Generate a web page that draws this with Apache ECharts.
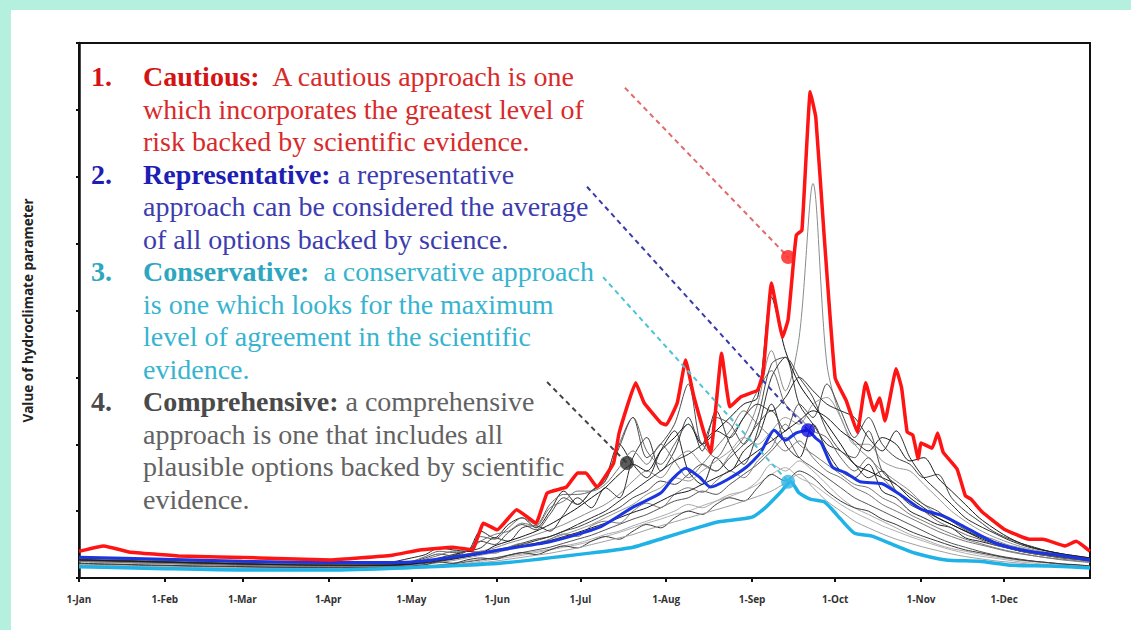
<!DOCTYPE html>
<html><head><meta charset="utf-8">
<script src="https://cdn.jsdelivr.net/npm/echarts@6/dist/echarts.min.js"></script>
<style>html,body{margin:0;padding:0;background:#b5f0df}#c{width:1131px;height:630px}</style>
</head><body><div id="c"></div>
<script>
// ---- axis ticks ----
const monthDays = [0,31,59,90,120,151,181,212,243,273,304,334];
const monthLabels = ['1-Jan','1-Feb','1-Mar','1-Apr','1-May','1-Jun','1-Jul','1-Aug','1-Sep','1-Oct','1-Nov','1-Dec'];

// ---- cautious (max) ----
const redDays = [0,9,18,36,65,91,113,123,135,142,146,151,158,165,169,176,180,183,187,193,195,201,204,210,212,216,219,222,228,232,235,239,245,247,250,254,256,258,259,261,264,266,269,273,277,281,284,287,289,291,295,297,299,301,303,304,308,310,312,317,320,322,326,334,343,348,356,360,365];
const redValues = [0.40,0.48,0.39,0.33,0.30,0.27,0.34,0.42,0.46,0.42,0.82,0.72,1.02,0.82,1.27,1.36,1.57,1.57,1.36,1.72,2.17,2.92,2.62,2.32,2.29,2.62,3.26,2.71,1.87,3.36,2.56,2.71,2.81,3.07,4.41,3.60,3.86,4.75,5.13,5.20,7.27,6.89,5.13,2.99,2.65,2.18,2.92,2.50,2.69,2.35,3.13,2.84,2.18,2.14,1.78,2.02,1.94,2.17,1.88,1.63,1.23,1.18,0.99,0.73,0.58,0.58,0.48,0.55,0.40];

// ---- representative (mean) ----
const blueDays = [0,31,59,90,120,143,152,170,188,200,210,214,219,224,228,234,241,246,251,255,259,263,266,268,272,277,282,290,297,304,312,319,331,343,356,365];
const blueValues = [0.31,0.28,0.25,0.23,0.24,0.36,0.42,0.54,0.76,1.06,1.27,1.47,1.64,1.51,1.36,1.47,1.66,1.87,2.21,2.06,2.17,2.21,2.09,2.02,1.66,1.57,1.44,1.41,1.23,1.03,0.93,0.78,0.52,0.40,0.33,0.27];

// ---- conservative (min) ----
const cyanDays = [0,31,59,90,116,152,188,200,212,224,231,243,248,253,257,260,264,269,272,275,280,286,295,302,313,325,337,350,365];
const cyanValues = [0.17,0.14,0.12,0.12,0.15,0.22,0.39,0.46,0.61,0.76,0.84,0.91,1.06,1.27,1.44,1.27,1.18,1.14,1.02,0.88,0.67,0.63,0.48,0.37,0.27,0.25,0.19,0.18,0.15];

// ---- comprehensive (individual options) ----
const greyDays = [0,30,60,90,110,
  120,125,130,135,140,145,150,155,160,165,
  170,175,180,185,190,195,200,205,210,215,
  220,225,230,235,240,245,250,255,260,265,
  270,275,280,285,290,295,300,305,310,315,
  320,325,330,335,340,345,350,355,360,365];
const grey1 = [0.28,0.25,0.22,0.20,0.22,
  0.30,0.35,0.45,0.42,0.40,0.70,0.60,0.80,0.90,0.75,
  1.00,1.30,1.10,1.30,1.50,2.00,1.70,1.50,1.90,2.20,
  1.60,1.40,1.80,1.60,1.90,2.10,2.60,2.00,1.80,2.30,
  1.90,1.60,1.50,1.70,1.30,1.20,1.00,0.90,0.80,0.75,
  0.60,0.55,0.50,0.45,0.40,0.38,0.35,0.33,0.30,0.28];
const grey2 = [0.30,0.26,0.23,0.21,0.20,
  0.22,0.25,0.28,0.32,0.36,0.40,0.45,0.52,0.58,0.65,
  0.72,0.80,0.90,1.00,1.10,1.25,1.45,1.60,1.50,1.75,
  1.90,1.70,1.60,1.85,2.10,2.60,3.40,2.80,3.60,5.90,
  3.20,2.40,2.00,1.80,1.60,1.45,1.30,1.10,0.95,0.85,
  0.75,0.65,0.58,0.50,0.45,0.40,0.37,0.34,0.31,0.28];
const grey3 = [0.26,0.23,0.20,0.18,0.17,
  0.20,0.24,0.30,0.35,0.40,0.45,0.60,0.55,0.75,0.78,
  0.70,0.95,1.20,1.05,1.35,1.20,1.80,2.10,1.60,1.90,
  2.40,1.90,2.50,2.00,1.70,2.20,3.00,3.30,2.60,2.30,
  2.00,1.90,1.70,1.50,1.60,1.30,1.10,1.00,0.90,0.80,
  0.70,0.62,0.55,0.48,0.42,0.38,0.34,0.31,0.28,0.25];
const grey4 = [0.22,0.19,0.17,0.15,0.15,
  0.16,0.18,0.20,0.22,0.25,0.28,0.30,0.33,0.36,0.40,
  0.43,0.48,0.52,0.58,0.65,0.70,0.78,0.85,0.92,1.00,
  1.10,1.05,1.15,1.25,1.30,1.45,1.70,1.60,1.75,1.60,
  1.40,1.20,1.05,0.95,0.85,0.75,0.65,0.58,0.50,0.44,
  0.40,0.36,0.32,0.29,0.26,0.24,0.22,0.20,0.19,0.17];
const grey5 = [0.30,0.27,0.24,0.22,0.21,
  0.22,0.24,0.26,0.30,0.33,0.38,0.42,0.46,0.52,0.58,
  0.62,0.70,0.76,0.85,0.95,1.05,1.20,1.30,1.45,1.40,
  1.55,1.70,1.60,1.80,2.00,2.30,2.50,2.20,2.60,2.40,
  2.90,2.50,2.10,2.40,2.00,1.80,1.70,1.50,1.55,1.20,
  1.00,0.85,0.70,0.60,0.52,0.46,0.40,0.36,0.32,0.30];
const grey6 = [0.25,0.22,0.19,0.18,0.18,
  0.22,0.28,0.34,0.40,0.40,0.55,0.65,0.70,0.82,0.78,
  1.05,1.15,1.30,1.30,1.40,1.65,1.90,1.70,2.00,1.75,
  1.50,1.70,1.95,2.20,2.50,2.30,2.10,1.90,2.05,1.80,
  1.60,1.50,1.35,1.25,1.10,1.00,0.90,0.80,0.70,0.62,
  0.55,0.50,0.45,0.40,0.36,0.33,0.30,0.28,0.26,0.24];
const grey7 = [0.27,0.24,0.21,0.19,0.19,
  0.21,0.24,0.28,0.33,0.40,0.38,0.48,0.55,0.62,0.70,
  0.80,0.92,1.05,1.20,1.35,1.55,1.70,1.60,1.90,2.10,
  2.30,2.00,2.20,2.40,2.60,2.70,4.20,3.40,2.90,2.60,
  2.30,2.00,1.70,1.60,1.50,1.40,1.20,1.05,0.90,0.80,
  0.70,0.60,0.52,0.46,0.40,0.36,0.33,0.30,0.28,0.26];
const grey8 = [0.24,0.21,0.19,0.17,0.17,
  0.18,0.20,0.23,0.26,0.30,0.34,0.38,0.42,0.48,0.52,
  0.58,0.65,0.72,0.80,0.90,1.00,1.10,1.25,1.35,1.50,
  1.45,1.60,1.75,1.90,2.10,2.00,2.20,2.40,2.30,2.60,
  2.70,2.40,2.00,2.00,1.75,1.65,1.60,1.40,1.20,1.00,
  0.85,0.72,0.62,0.54,0.47,0.42,0.38,0.34,0.31,0.28];
const grey9 = [0.21,0.18,0.16,0.15,0.14,
  0.15,0.17,0.19,0.21,0.24,0.27,0.30,0.34,0.38,0.42,
  0.46,0.52,0.58,0.64,0.72,0.80,0.88,0.95,1.05,1.15,
  1.20,1.30,1.25,1.40,1.55,1.70,1.90,2.10,1.80,1.65,
  1.50,1.35,1.20,1.10,1.00,0.90,0.80,0.70,0.60,0.52,
  0.46,0.40,0.35,0.31,0.28,0.25,0.23,0.21,0.19,0.18];
const grey10 = [0.29,0.26,0.23,0.20,0.21,
  0.25,0.32,0.40,0.38,0.40,0.62,0.58,0.75,0.90,0.80,
  1.10,1.25,1.25,1.30,1.45,2.00,2.40,1.90,1.70,2.00,
  2.30,2.00,1.80,2.10,2.40,2.80,3.10,2.60,2.40,2.20,
  2.10,1.80,1.60,1.80,1.50,1.30,1.15,1.00,0.85,0.75,
  0.65,0.58,0.50,0.45,0.40,0.36,0.33,0.30,0.28,0.26];
const grey11 = [0.26,0.23,0.20,0.19,0.18,
  0.20,0.22,0.25,0.28,0.32,0.36,0.40,0.45,0.50,0.56,
  0.62,0.70,0.80,0.90,1.00,1.15,1.30,1.45,1.60,1.75,
  1.85,2.00,2.20,2.10,2.40,2.60,2.50,2.70,3.00,2.80,
  2.60,2.50,2.40,2.10,1.90,2.20,1.80,1.50,1.30,1.10,
  0.90,0.78,0.68,0.58,0.50,0.44,0.40,0.36,0.33,0.30];
const grey12 = [0.20,0.17,0.15,0.14,0.14,
  0.15,0.16,0.18,0.20,0.22,0.25,0.28,0.31,0.34,0.38,
  0.42,0.46,0.50,0.55,0.62,0.68,0.75,0.82,0.88,0.95,
  1.00,1.08,1.15,1.22,1.30,1.40,1.55,1.65,1.50,1.40,
  1.25,1.10,0.98,0.88,0.78,0.70,0.62,0.55,0.48,0.42,
  0.37,0.33,0.30,0.27,0.24,0.22,0.20,0.19,0.18,0.16];
const grey13 = [0.27,0.24,0.21,0.19,0.20,
  0.24,0.30,0.36,0.33,0.40,0.55,0.50,0.68,0.80,0.72,
  0.95,1.20,1.10,1.30,1.45,1.95,2.40,1.80,2.00,2.30,
  2.90,2.00,2.40,2.30,2.00,2.40,3.20,3.30,3.00,2.70,
  2.20,1.90,1.80,2.20,1.60,1.40,1.25,1.10,1.00,0.85,
  0.72,0.62,0.55,0.48,0.43,0.38,0.35,0.32,0.29,0.27];
const grey14 = [0.22,0.19,0.17,0.16,0.16,
  0.18,0.20,0.24,0.22,0.27,0.30,0.28,0.34,0.38,0.35,
  0.42,0.48,0.45,0.55,0.62,0.58,0.70,0.80,0.75,0.90,
  1.00,0.95,1.10,1.20,1.15,1.35,1.55,1.45,1.60,1.50,
  1.30,1.15,1.05,1.00,0.88,0.80,0.70,0.62,0.55,0.48,
  0.42,0.38,0.34,0.30,0.27,0.25,0.23,0.21,0.20,0.18];
const grey15 = [0.25,0.22,0.19,0.18,0.17,
  0.19,0.23,0.26,0.30,0.34,0.40,0.37,0.46,0.52,0.50,
  0.58,0.66,0.62,0.78,0.85,0.82,1.00,1.12,1.05,1.25,
  1.35,1.28,1.45,1.60,1.50,1.75,1.95,2.30,2.00,1.85,
  1.70,1.55,1.40,1.35,1.20,1.10,0.95,0.85,0.75,0.66,
  0.58,0.52,0.46,0.41,0.37,0.33,0.30,0.27,0.25,0.23];
const grey16 = [0.27,0.24,0.21,0.19,0.19,
  0.21,0.23,0.26,0.29,0.32,0.36,0.40,0.44,0.48,0.52,
  0.56,0.62,0.68,0.75,0.82,0.90,0.98,1.05,1.15,1.25,
  1.30,1.40,1.50,1.60,1.75,1.90,2.05,2.20,2.35,2.50,
  2.40,2.20,2.05,1.90,2.10,2.00,1.75,1.80,1.50,1.30,
  1.10,0.90,0.75,0.62,0.52,0.45,0.40,0.36,0.33,0.30];
const grey17 = [0.19,0.16,0.14,0.13,0.13,
  0.14,0.15,0.17,0.19,0.21,0.23,0.25,0.28,0.31,0.34,
  0.37,0.41,0.45,0.50,0.55,0.60,0.65,0.72,0.78,0.84,
  0.90,0.96,1.02,1.08,1.15,1.22,1.30,1.42,1.55,1.35,
  1.15,1.00,0.85,0.75,0.66,0.58,0.52,0.46,0.41,0.36,
  0.32,0.29,0.26,0.24,0.22,0.20,0.19,0.18,0.17,0.16];
const greyLines = [grey1,grey2,grey3,grey4,grey5,grey6,grey7,grey8,grey9,grey10,grey11,grey12,grey13,grey14,grey15,grey16,grey17];

// ---- callout anchors (data space) ----
const calloutStartDays = [197.1,183.4,189.2,169.0];
const calloutStartValues = [7.33,5.85,4.50,2.93];
const calloutDotDays = [256.0,263.2,256.0,197.8];
const calloutDotValues = [4.80,2.21,1.44,1.72];

// ---- styling ----
const greyColors = ['#222','#8a8a8a','#333','#aaa','#444','#777','#111','#999','#555','#666','#2a2a2a','#b0b0b0','#4a4a4a','#3a3a3a','#7a7a7a','#1a1a1a','#a0a0a0'];
const calloutLineColors = ['#e06a6a','#3a3aa8','#4cc4d4','#444'];
const calloutDotColors = ['#ff1a1a','#1010e0','#2fb8e8','#333'];

const pairs = (xs, ys) => xs.map((x, i) => [x, ys[i]]);

const series = [];
greyLines.forEach((vals, i) => {
  series.push({type:'line', data: pairs(greyDays, vals), symbol:'none', smooth:0.3, silent:true, z:2,
    lineStyle:{color: greyColors[i], width:1}});
});
series.push({type:'line', data: pairs(cyanDays, cyanValues), symbol:'none', smooth:0.2, z:4,
  lineStyle:{color:'#1fb2e6', width:3.5}});
series.push({type:'line', data: pairs(blueDays, blueValues), symbol:'none', smooth:0.2, z:5,
  lineStyle:{color:'#1b35e0', width:3}});
series.push({type:'line', data: pairs(redDays, redValues), symbol:'none', smooth:0.1, z:6,
  lineStyle:{color:'#ff1414', width:3.5}});
calloutStartDays.forEach((d, i) => {
  series.push({type:'line', data: [[d, calloutStartValues[i]], [calloutDotDays[i], calloutDotValues[i]]],
    symbol:'none', silent:true, z:7, lineStyle:{color: calloutLineColors[i], width:2, type:[5,4]}});
});
series.push({type:'scatter', z:8, symbolSize:14, silent:true,
  data: calloutDotDays.map((d, i) => ({value:[d, calloutDotValues[i]], itemStyle:{color: calloutDotColors[i]}}))});

// ---- annotation text ----
const lineTop = 86, pitch = 32.5, fs = 28, numX = 91, txtX = 143;
const serif = 'Liberation Serif';
const blocks = [
  {num:'1.', bold:'Cautious:', rest:'  A cautious approach is one', lines:['which incorporates the greatest level of','risk backed by scientific evidence.'], cb:'#d41414', cr:'#d82a2a'},
  {num:'2.', bold:'Representative:', rest:' a representative', lines:['approach can be considered the average','of all options backed by science.'], cb:'#1e1eb4', cr:'#3c3cae'},
  {num:'3.', bold:'Conservative:', rest:'  a conservative approach', lines:['is one which looks for the maximum','level of agreement in the scientific','evidence.'], cb:'#2ea6c0', cr:'#36b4cf'},
  {num:'4.', bold:'Comprehensive:', rest:' a comprehensive', lines:['approach is one that includes all','plausible options backed by scientific','evidence.'], cb:'#4a4a4a', cr:'#626262'}
];
const graphic = [{type:'rect', left:11, top:10, shape:{width:1120, height:620}, style:{fill:'#fff'}, z:-10, silent:true}];
let k = 0;
blocks.forEach(b => {
  const y0 = lineTop + pitch * k - 9.5;
  graphic.push({type:'text', x:numX, y:y0, z:20, silent:true,
    style:{text:b.num, font:'bold ' + fs + 'px "' + serif + '"', fill:b.cb, verticalAlign:'middle'}});
  graphic.push({type:'text', x:txtX, y:y0, z:20, silent:true,
    style:{text:'{b|' + b.bold + '}{r|' + b.rest + '}', verticalAlign:'middle', font: fs + 'px "' + serif + '"',
      rich:{b:{fontWeight:'bold', fontSize:fs, fontFamily:serif, fill:b.cb}, r:{fontSize:fs, fontFamily:serif, fill:b.cr}}}});
  k++;
  b.lines.forEach(t => {
    graphic.push({type:'text', x:txtX, y:lineTop + pitch * k - 9.5, z:20, silent:true,
      style:{text:t, font: fs + 'px "' + serif + '"', fill:b.cr, verticalAlign:'middle'}});
    k++;
  });
});

const chart = echarts.init(document.getElementById('c'), null, {renderer:'svg'});
chart.setOption({
  animation:false,
  backgroundColor:'#b5f0df',
  grid:{left:79, top:43, right:41, bottom:52, show:true, borderColor:'#111', borderWidth:2, backgroundColor:'#fff', containLabel:false},
  xAxis:{type:'value', min:0, max:365,
    axisLine:{show:true, onZero:false, lineStyle:{color:'#111', width:2}},
    axisTick:{show:true, customValues:monthDays, length:4, lineStyle:{color:'#111', width:2}},
    axisLabel:{customValues:monthDays, formatter:v => monthLabels[monthDays.indexOf(v)] || '', margin:16,
      fontFamily:'Open Sans', fontSize:10, fontWeight:'bold', color:'#333'},
    splitLine:{show:false}},
  yAxis:{type:'value', min:0, max:8, interval:1,
    name:'Value of hydroclimate parameter', nameLocation:'middle', nameGap:44, nameRotate:90,
    nameTextStyle:{fontFamily:'Open Sans', fontSize:13.5, fontWeight:'bold', color:'#222'},
    axisLine:{show:true, onZero:false, lineStyle:{color:'#111', width:2.5}},
    axisTick:{show:true, length:3, lineStyle:{color:'#111', width:2}},
    axisLabel:{show:false}, splitLine:{show:false}},
  graphic: graphic,
  series: series
});
</script></body></html>
